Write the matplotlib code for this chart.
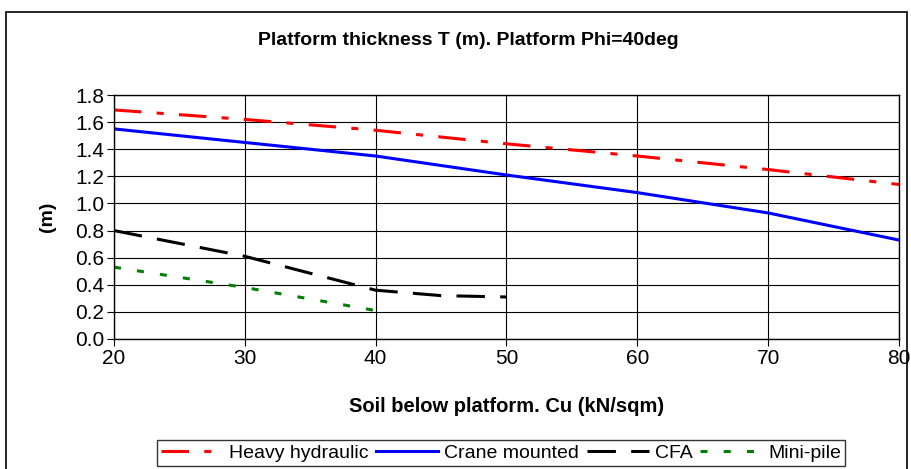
import matplotlib.pyplot as plt
from matplotlib.patches import Rectangle

# Dati
cu_heavy = [20, 30, 40, 50, 60, 70, 80]
t_heavy = [1.69, 1.62, 1.54, 1.44, 1.35, 1.25, 1.14]

cu_crane = [20, 30, 40, 50, 60, 70, 80]
t_crane = [1.55, 1.45, 1.35, 1.21, 1.08, 0.93, 0.73]

cu_cfa = [20, 30, 40, 45, 50]
t_cfa = [0.80, 0.61, 0.36, 0.32, 0.31]

cu_mini = [20, 30, 40]
t_mini = [0.53, 0.38, 0.21]

y_ticks = [0.0, 0.2, 0.4, 0.6, 0.8, 1.0, 1.2, 1.4, 1.6, 1.8]
x_ticks = [20, 30, 40, 50, 60, 70, 80]

plt.rcParams['font.family'] = ['Liberation Sans', 'DejaVu Sans']

fig = plt.figure(figsize=(9.12, 4.69), dpi=100)
ax = fig.add_axes([0.125, 0.2772, 0.8607, 0.5202])

# Cornice esterna del grafico
fig.patches.append(Rectangle((0.007, -0.1), 0.988, 1.075, transform=fig.transFigure,
                             fill=False, edgecolor='black', linewidth=1.2))

lw = 2.2
ax.plot(cu_heavy, t_heavy, color='#ff0000', linewidth=lw, dashes=(9, 5, 2.3, 5),
        label='Heavy hydraulic', solid_capstyle='butt', dash_capstyle='butt')
ax.plot(cu_crane, t_crane, color='#0000ff', linewidth=lw, label='Crane mounted')
ax.plot(cu_cfa, t_cfa, color='black', linewidth=lw, dashes=(9.3, 5),
        label='CFA', dash_capstyle='butt')
ax.plot(cu_mini, t_mini, color='#008000', linewidth=lw, dashes=(2.3, 5.3),
        label='Mini-pile', dash_capstyle='butt')

ax.set_xlim(20, 80)
ax.set_ylim(0, 1.8)
ax.set_xticks(x_ticks)
ax.set_yticks(y_ticks)
ax.set_yticklabels(['%.1f' % v for v in y_ticks])
ax.grid(True, color='black', linewidth=0.8)
ax.tick_params(labelsize=15, direction='out', length=5, width=0.8, pad=2)
for s in ax.spines.values():
    s.set_linewidth(1.0)

ax.set_title('Platform thickness T (m). Platform Phi=40deg', fontsize=14,
             fontweight='bold', pad=36, x=0.451)
ax.set_xlabel('Soil below platform. Cu (kN/sqm)', fontsize=14.5, fontweight='bold', labelpad=21)
ax.set_ylabel('(m)', fontsize=14, fontweight='bold', labelpad=14)

leg = ax.legend(loc='upper center', bbox_to_anchor=(0.493, -0.415), ncol=4, fontsize=14,
                frameon=True, fancybox=False, edgecolor='black', handlelength=3.2,
                handletextpad=0.3, columnspacing=0.4, borderpad=0.2, borderaxespad=0)
leg.get_frame().set_linewidth(1.0)

fig.savefig('out.png', dpi=100)
